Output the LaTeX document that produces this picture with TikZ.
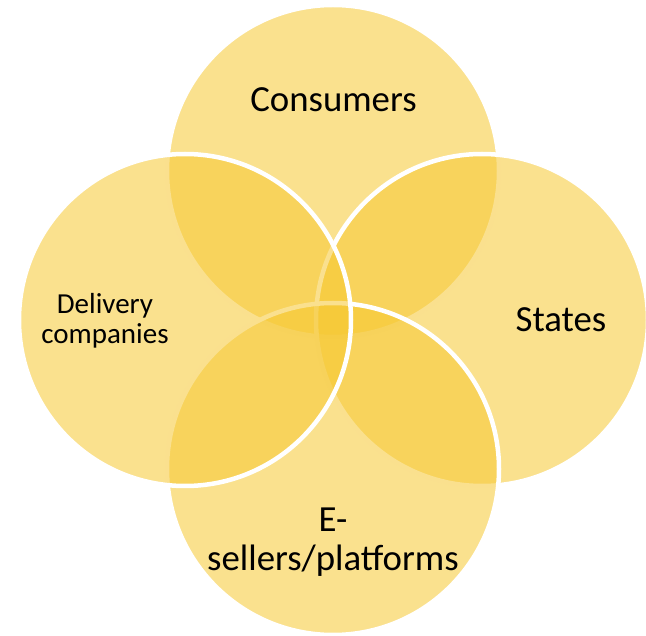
\documentclass[tikz,border=0pt]{standalone}
\usepackage{fontspec}
\setmainfont{Carlito}
\usetikzlibrary{positioning}

\definecolor{vennyellow}{RGB}{246,200,50}

\tikzset{
    venn/.style={circle, minimum size=332pt, inner sep=0pt, fill=vennyellow, fill opacity=0.55, draw=white, line width=4.5pt},
    biglabel/.style={font=\fontsize{36.8}{39}\selectfont, align=center, inner sep=0pt},
    smalllabel/.style={font=\fontsize{29}{30}\selectfont, align=center, inner sep=0pt}
}

\begin{document}
\begin{tikzpicture}[x=1pt,y=-1pt]
    \useasboundingbox (0,0) rectangle (646,636);

    % Circles (drawn top, right, bottom, left)
    \node[venn] (cons) at (333,171) {};
    \node[venn] (stat) at (482,320) {};
    \node[venn] (sell) at (333,469) {};
    \node[venn] (deli) at (185,320) {};

    % Labels
    \node[biglabel, anchor=base] (conslabel) at (333.5,112) {Consumers};
    \node[biglabel, anchor=base] (statlabel) at (561,332) {States};
    \node[biglabel] (selllabel) at (333,542) {E-\\sellers/platforms};
    \node[smalllabel] (delilabel) at (105,321) {Delivery\\companies};
\end{tikzpicture}
\end{document}
